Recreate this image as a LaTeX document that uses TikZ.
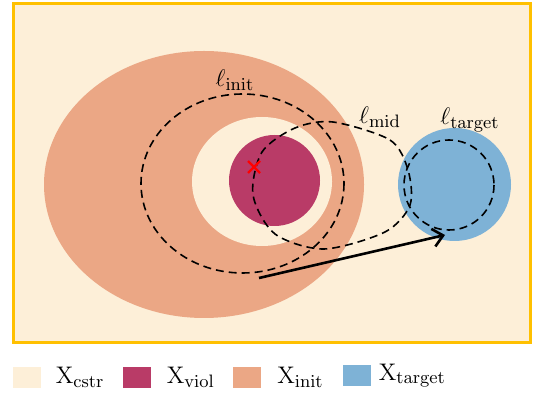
\documentclass[tikz,border=0pt]{standalone}
\usetikzlibrary{arrows.meta,positioning}

\definecolor{cstrcol}{HTML}{FDEFD8}
\definecolor{initcol}{HTML}{EBA785}
\definecolor{violcol}{HTML}{B93B67}
\definecolor{targetcol}{HTML}{7EB2D6}
\definecolor{framecol}{HTML}{FFC000}

\begin{document}
\begin{tikzpicture}[x=0.5pt, y=-0.5pt,
    lvl/.style={draw=black, line width=0.8pt, dash pattern=on 4pt off 2.5pt},
    lbl/.style={font=\fontsize{13}{15}\selectfont, inner sep=0pt},
    key/.style={minimum width=14pt, minimum height=10.5pt, inner sep=0pt}]
    \useasboundingbox (0,0) rectangle (534,394);

    % regions
    \fill[cstrcol] (13,4) rectangle (530,343);
    \fill[initcol] (204,184.5) ellipse [x radius=160, y radius=133.5];
    \fill[cstrcol] (262,181.5) ellipse [x radius=70, y radius=64.5];
    \fill[violcol] (274.5,180.5) circle [radius=45.5];
    \fill[targetcol] (454.5,184.5) circle [radius=56.5];

    % level sets
    \draw[lvl] (242.5,183.5) ellipse [x radius=101.5, y radius=89.5];
    \draw[lvl] plot[smooth cycle] coordinates {(333,122) (390,140) (408,170) (410,205) (385,232) (324,249) (275,234) (253,195) (262,152) (295,128)};
    \draw[lvl] (449,185) circle [radius=45];

    \draw[red, line width=1.2pt] (248,161) -- (260,173) (248,173) -- (260,161);

    \coordinate (tail) at (259,278);
    \coordinate (head) at (445,235);
    \draw[line width=1.3pt, -{Straight Barb[length=5pt,width=9pt]}] (tail) -- (head);

    \draw[framecol, line width=1.5pt] (13,4) rectangle (530,343);

    \node[lbl] (linit) at (235,80) {$\ell_{\mathrm{init}}$};
    \node[lbl] (lmid) at (380,117) {$\ell_{\mathrm{mid}}$};
    \node[lbl] (ltarget) at (470,120) {$\ell_{\mathrm{target}}$};

    % legend
    \node[key, fill=cstrcol] (kcstr) at (27,377.5) {};
    \node[key, fill=violcol] (kviol) at (137,377.5) {};
    \node[key, fill=initcol] (kinit) at (246.5,377.5) {};
    \node[key, fill=targetcol] (ktarget) at (357,375.5) {};
    \node[lbl, right=7pt of kcstr] (tcstr) {$\mathrm{X}_{\mathrm{cstr}}$};
    \node[lbl, right=7.5pt of kviol] (tviol) {$\mathrm{X}_{\mathrm{viol}}$};
    \node[lbl, right=8pt of kinit] (tinit) {$\mathrm{X}_{\mathrm{init}}$};
    \node[lbl, right=3.5pt of ktarget] (ttarget) {$\mathrm{X}_{\mathrm{target}}$};
\end{tikzpicture}
\end{document}
